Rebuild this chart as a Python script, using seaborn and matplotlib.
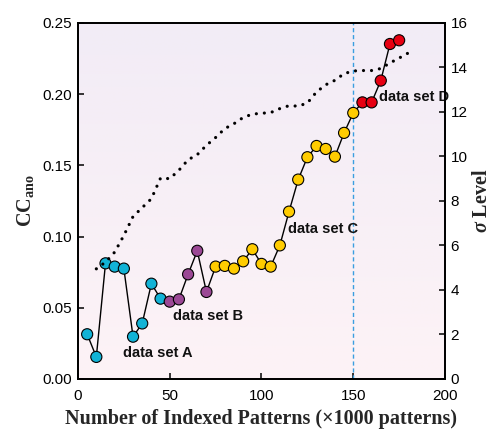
import numpy as np
import pandas as pd
import matplotlib
matplotlib.use("Agg")
import matplotlib.pyplot as plt
import seaborn as sns
from matplotlib.colors import LinearSegmentedColormap

# ---- data ----
patterns_k = [5, 10, 15, 20, 25, 30, 35, 40, 45,
              50, 55, 60, 65, 70,
              75, 80, 85, 90, 95, 100, 105, 110, 115, 120, 125, 130, 135, 140, 145, 150,
              155, 160, 165, 170, 175]
cc_ano = [0.0314, 0.0155, 0.0812, 0.0789, 0.0775, 0.0297, 0.0390, 0.0669, 0.0564,
          0.0543, 0.0559, 0.0735, 0.0900, 0.0611,
          0.0789, 0.0794, 0.0775, 0.0826, 0.0911, 0.0808, 0.0789, 0.0938, 0.1175,
          0.1400, 0.1557, 0.1636, 0.1615, 0.1561, 0.1728, 0.1868,
          0.1942, 0.1942, 0.2095, 0.2352, 0.2378]
set_names = ["A", "B", "C", "D"]
set_sizes = [9, 5, 16, 5]
set_colors = ["#12b3d6", "#9b4895", "#ffcc00", "#e60012"]

sigma_x = [10, 15, 20, 25, 30, 35, 40, 45, 50, 55, 60, 65, 70, 75, 80, 85, 90, 95,
           100, 105, 110, 115, 120, 125, 130, 135, 140, 145, 150, 155, 160, 165, 170,
           175, 180]
sigma_level = [4.95, 5.25, 5.70, 6.45, 7.30, 7.70, 8.10, 9.03, 9.00, 9.38, 9.85,
               10.08, 10.50, 10.85, 11.25, 11.47, 11.75, 11.90, 11.94, 11.97, 12.15,
               12.28, 12.26, 12.40, 12.90, 13.22, 13.42, 13.72, 13.84, 13.86, 13.86,
               13.95, 14.20, 14.42, 14.65]

labels = ["data set A", "data set B", "data set C", "data set D"]
label_x = [24.5, 52.0, 114.7, 164.3]
label_y = [0.0185, 0.0445, 0.1050, 0.1980]

groups = [n for n, k in zip(set_names, set_sizes) for _ in range(k)]
df = pd.DataFrame({"x": patterns_k, "cc": cc_ano, "set": groups})
sig_df = pd.DataFrame({"x": sigma_x, "sigma": sigma_level})

# ---- style ----
sns.set_theme(style="ticks")
plt.rcParams["font.family"] = ["Liberation Sans", "DejaVu Sans"]
plt.rcParams["mathtext.fontset"] = "custom"
plt.rcParams["mathtext.rm"] = "Liberation Serif:bold"
plt.rcParams["mathtext.bf"] = "Liberation Serif:bold"
plt.rcParams["mathtext.it"] = "Liberation Serif:bold:italic"
plt.rcParams["mathtext.bfit"] = "Liberation Serif:bold:italic"

fig = plt.figure(figsize=(4.92, 4.29), dpi=100)
ax = fig.add_axes([0.1585, 0.1166, 0.746, 0.830])

# background gradient
cmap = LinearSegmentedColormap.from_list("bg", ["#fdf3f6", "#f2ecf6"])
ax.imshow(np.linspace(0, 1, 256).reshape(-1, 1), extent=[0, 1, 0, 1],
          transform=ax.transAxes, cmap=cmap, aspect="auto", origin="lower",
          zorder=0)

ax.axvline(150, color="#3a9ee0", lw=1.0, ls=(0, (3, 2)), zorder=1)

sns.lineplot(data=df, x="x", y="cc", color="black", lw=1.0, ax=ax, zorder=2)
sns.scatterplot(data=df, x="x", y="cc", hue="set", palette=set_colors,
                hue_order=set_names, s=64, edgecolor="black", linewidth=0.8,
                legend=False, ax=ax, zorder=3)

for t, lx, ly in zip(labels, label_x, label_y):
    ax.text(lx, ly, t, fontsize=10.5, fontweight="bold", va="center", ha="left",
            color="#111111", zorder=5)

ax.set_xlim(0, 200)
ax.set_ylim(0, 0.25)
ax.set_xticks([0, 50, 100, 150, 200])
ax.set_yticks([0, 0.05, 0.10, 0.15, 0.20, 0.25])
ax.set_yticklabels([f"{v:.2f}" for v in [0, 0.05, 0.10, 0.15, 0.20, 0.25]])

ax2 = ax.twinx()
ax2.patch.set_visible(False)
sns.lineplot(data=sig_df, x="x", y="sigma", color="black", lw=2.3, ax=ax2,
             zorder=4)
for ln in ax2.get_lines():
    ln.set_linestyle((0, (0.01, 2.5)))
    ln.set_dash_capstyle("round")
ax2.set_ylim(0, 16)
ax2.set_yticks(range(0, 17, 2))

for a in (ax, ax2):
    for s in a.spines.values():
        s.set_linewidth(1.3)
        s.set_color("black")
    a.tick_params(direction="in", length=4, width=1.1, labelsize=11,
                  colors="black", pad=4)
ax.tick_params(axis="x", pad=7)

ax.set_xlabel("Number of Indexed Patterns (\u00d71000 patterns)",
              fontfamily="Liberation Serif", fontweight="bold", fontsize=14.5)
ax.set_ylabel(r"CC$_{\mathbf{ano}}$", fontfamily="Liberation Serif",
              fontweight="bold", fontsize=14.5)
ax2.set_ylabel(r"$\mathbfit{\sigma}$ Level", fontfamily="Liberation Serif",
               fontweight="bold", fontsize=14.5)
ax.xaxis.set_label_coords(0.5, -0.084)
ax.yaxis.set_label_coords(-0.114, 0.5)
ax2.yaxis.set_label_coords(1.074, 0.5)

fig.savefig("out.png", dpi=100)
